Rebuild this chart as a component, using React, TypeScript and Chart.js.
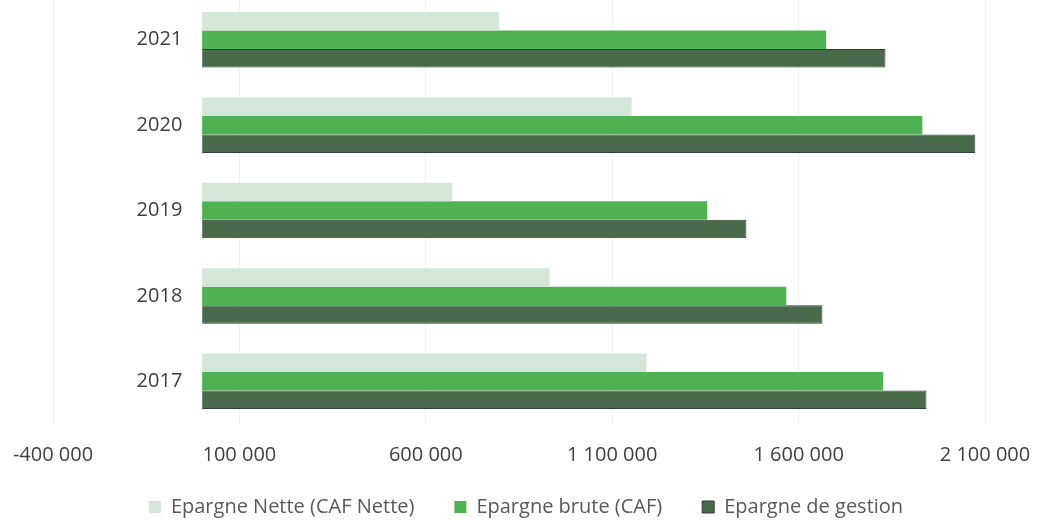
import React, { useEffect, useRef } from 'react';
import { Chart, registerables } from 'chart.js';

Chart.register(...registerables);

const years = ['2021', '2020', '2019', '2018', '2017'];
const epargneNette = [797000, 1152000, 671000, 932000, 1192000];
const epargneBrute = [1674000, 1932000, 1355000, 1567000, 1827000];
const epargneGestion = [1833000, 2074000, 1460000, 1664000, 1943000];
const seriesNames = ['Epargne Nette (CAF Nette)', 'Epargne brute (CAF)', 'Epargne de gestion'];
const xMin = -400000;
const xMax = 2100000;
const xStep = 500000;

function fmt(v: number): string {
  return Math.round(v).toString().replace(/\B(?=(\d{3})+(?!\d))/g, ' ');
}

const legendShift = {
  id: 'legendShift',
  afterLayout(chart: any) {
    const l = chart.legend;
    if (!l) return;
    l.top -= 10;
    l.bottom -= 10;
    l.left += 7;
    l.right += 7;
  },
};

export default function App() {
  const ref = useRef<HTMLCanvasElement | null>(null);
  useEffect(() => {
    if (!ref.current) return;
    const font = { family: '"Open Sans", sans-serif', size: 20 };
    const chart = new Chart(ref.current, {
      type: 'bar',
      data: {
        labels: years,
        datasets: [
          { label: seriesNames[0], data: epargneNette, backgroundColor: '#d4e6d7', borderWidth: 0 },
          { label: seriesNames[1], data: epargneBrute, backgroundColor: '#4fb153', borderWidth: 0 },
          { label: seriesNames[2], data: epargneGestion, backgroundColor: '#4a6a4c', borderColor: '#2f3f31', borderWidth: 1 },
        ],
      },
      options: {
        indexAxis: 'y',
        animation: false,
        responsive: false,
        maintainAspectRatio: false,
        datasets: { bar: { categoryPercentage: 0.65, barPercentage: 1 } },
        layout: { padding: { left: 53, right: 52, top: 0, bottom: 0 } },
        scales: {
          x: {
            type: 'linear',
            min: xMin,
            max: xMax,
            ticks: {
              stepSize: xStep,
              padding: 0,
              color: '#404040',
              font,
              maxRotation: 0,
              callback: (v: any) => fmt(Number(v)),
            },
            grid: { color: '#f1f1f1', drawTicks: true, tickLength: 19, tickColor: 'rgba(0,0,0,0)' },
            border: { display: false },
          },
          y: {
            type: 'category',
            position: { x: -53000 } as any,
            ticks: { color: '#404040', font: { ...font, lineHeight: 0.01 }, padding: 0 },
            grid: { display: false, drawTicks: false },
            border: { display: false },
          },
        },
        plugins: {
          legend: {
            position: 'bottom',
            labels: {
              boxWidth: 12,
              boxHeight: 12,
              padding: 40,
              color: '#595959',
              font,
            },
          },
          tooltip: { enabled: false },
        },
      },
      plugins: [legendShift],
    });
    return () => chart.destroy();
  }, []);
  return (
    <div style={{ position: 'fixed', left: 0, top: -3, width: 1037, height: 540 }}>
      <canvas ref={ref} width={1037} height={540} style={{ width: 1037, height: 540, display: 'block' }} />
    </div>
  );
}
